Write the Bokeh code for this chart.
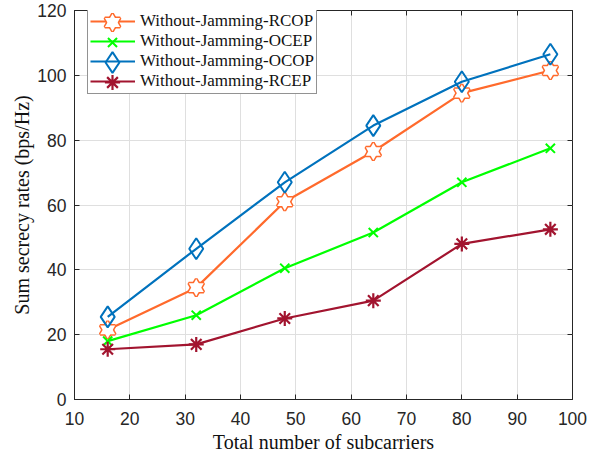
from bokeh.plotting import figure
from bokeh.models import Legend, LegendItem, Range1d, FixedTicker, LinearAxis
from bokeh.embed import file_html
from bokeh.resources import INLINE

subcarriers = [16, 32, 48, 64, 80, 96]
rcop = [21.5, 34.5, 61.0, 76.5, 94.5, 101.5]
ocep = [18.0, 26.0, 40.5, 51.5, 67.0, 77.5]
ocop = [25.5, 46.5, 67.0, 84.5, 98.0, 106.5]
rcep = [15.5, 17.0, 25.0, 30.5, 48.0, 52.5]

names = ["Without-Jamming-RCOP", "Without-Jamming-OCEP",
         "Without-Jamming-OCOP", "Without-Jamming-RCEP"]
x_ticks = [10, 20, 30, 40, 50, 60, 70, 80, 90, 100]
y_ticks = [0, 20, 40, 60, 80, 100, 120]

C_OR = "#FF6A2C"
C_GR = "#00FF00"
C_BL = "#0072BD"
C_RD = "#A2142F"
AX = "#262626"

FW, FH = 498, 389
p = figure(frame_width=FW, frame_height=FH,
           output_backend="svg", toolbar_location=None,
           x_range=Range1d(10, 100), y_range=Range1d(0, 120),
           min_border_left=74, min_border_right=20, min_border_top=10,
           min_border_bottom=60)
p.background_fill_color = "white"
p.border_fill_color = "white"
p.outline_line_color = AX
p.outline_line_width = 1

xax = p.below[0]
yax = p.left[0]

# mirrored tick marks on top and right (empty labels)
top_ax = LinearAxis(ticker=FixedTicker(ticks=x_ticks),
                    major_label_overrides={t: "" for t in x_ticks},
                    major_label_standoff=0, axis_line_color=None)
right_ax = LinearAxis(ticker=FixedTicker(ticks=y_ticks),
                      major_label_overrides={t: "" for t in y_ticks},
                      major_label_standoff=0, axis_line_color=None)
p.add_layout(top_ax, "above")
p.add_layout(right_ax, "right")
for ax in (top_ax, right_ax):
    ax.major_tick_in = 5
    ax.major_tick_out = 0
    ax.minor_tick_in = 0
    ax.minor_tick_out = 0
    ax.major_tick_line_color = AX
    ax.major_label_text_font_size = "1px"

for ax, ticks in ((xax, x_ticks), (yax, y_ticks)):
    ax.ticker = FixedTicker(ticks=ticks)
    ax.major_tick_in = 5
    ax.major_tick_out = 0
    ax.minor_tick_in = 0
    ax.minor_tick_out = 0
    ax.axis_line_color = AX
    ax.major_tick_line_color = AX
    ax.major_label_text_font = "Liberation Sans"
    ax.major_label_text_font_size = "17.5px"
    ax.major_label_text_color = AX
    ax.axis_label_text_font = "Liberation Serif"
    ax.axis_label_text_font_size = "20px"
    ax.axis_label_text_font_style = "normal"
    ax.axis_label_text_color = "#111111"

xax.axis_label = "Total number of subcarriers"
yax.axis_label = "Sum secrecy rates (bps/Hz)"
xax.major_label_standoff = 12
yax.major_label_standoff = 8
xax.axis_label_standoff = 3
yax.axis_label_standoff = 1

p.xgrid.grid_line_color = "#DFDFDF"
p.ygrid.grid_line_color = "#DFDFDF"
p.xgrid.ticker = FixedTicker(ticks=x_ticks)
p.ygrid.ticker = FixedTicker(ticks=y_ticks)

LW = 2.2
S_HEX, S_X, S_DIA, S_AST = 15, 13, 21, 15

# RCOP: hexagram from two triangles
l1 = p.line(subcarriers, rcop, line_color=C_OR, line_width=LW)
t1 = p.scatter(subcarriers, rcop, marker="triangle", size=S_HEX, line_color=C_OR,
               line_width=3, fill_color="white")
t2 = p.scatter(subcarriers, rcop, marker="inverted_triangle", size=S_HEX, line_color=C_OR,
               line_width=3, fill_color="white")
t3 = p.scatter(subcarriers, rcop, marker="triangle", size=S_HEX, line_color=None,
               fill_color="white")
t4 = p.scatter(subcarriers, rcop, marker="inverted_triangle", size=S_HEX, line_color=None,
               fill_color="white")

l2 = p.line(subcarriers, ocep, line_color=C_GR, line_width=LW)
m2 = p.scatter(subcarriers, ocep, marker="x", size=S_X, line_color=C_GR, line_width=2)

l3 = p.line(subcarriers, ocop, line_color=C_BL, line_width=LW)
m3 = p.scatter(subcarriers, ocop, marker="diamond", size=S_DIA, line_color=C_BL,
               line_width=2, fill_color=None)

l4 = p.line(subcarriers, rcep, line_color=C_RD, line_width=LW)
m4 = p.scatter(subcarriers, rcep, marker="asterisk", size=S_AST, line_color=C_RD, line_width=2.2)

# main legend: lines + labels
LX, PAD, ROW, GW = 13, 2, 20, 45
LH = 4 * ROW + 2 * PAD
legend = Legend(items=[
    LegendItem(label=names[0], renderers=[l1]),
    LegendItem(label=names[1], renderers=[l2]),
    LegendItem(label=names[2], renderers=[l3]),
    LegendItem(label=names[3], renderers=[l4]),
], location=(LX, FH - LH))
legend.padding = PAD
legend.spacing = 0
legend.margin = 0
legend.glyph_width = GW
legend.glyph_height = ROW
legend.label_height = ROW
legend.label_standoff = 5
legend.label_text_font = "Liberation Serif"
legend.label_text_font_size = "17px"
legend.label_text_color = "#111111"
legend.border_line_color = AX
legend.border_line_width = 1
legend.background_fill_color = "white"
legend.background_fill_alpha = 1
p.add_layout(legend, "center")

# marker overlays for the legend, at full marker size
def marker_legend(renderers, size, row):
    g = int(2 * round(size / 0.8))
    cx = LX + PAD + GW / 2
    cy = FH - (PAD + ROW / 2 + ROW * row)
    lg = Legend(items=[LegendItem(label=" ", renderers=renderers)],
                location=(cx - g / 2, cy - g / 2))
    lg.padding = 0
    lg.spacing = 0
    lg.margin = 0
    lg.glyph_width = g
    lg.glyph_height = g
    lg.label_height = g
    lg.label_width = 0
    lg.label_standoff = 0
    lg.label_text_alpha = 0
    lg.border_line_color = None
    lg.background_fill_alpha = 0
    lg.inactive_fill_alpha = 0
    p.add_layout(lg, "center")

marker_legend([t1, t2, t3, t4], S_HEX, 0)
marker_legend([m2], S_X, 1)
marker_legend([m3], S_DIA, 2)
marker_legend([m4], S_AST, 3)

open("out.html", "w").write(file_html(p, INLINE))
